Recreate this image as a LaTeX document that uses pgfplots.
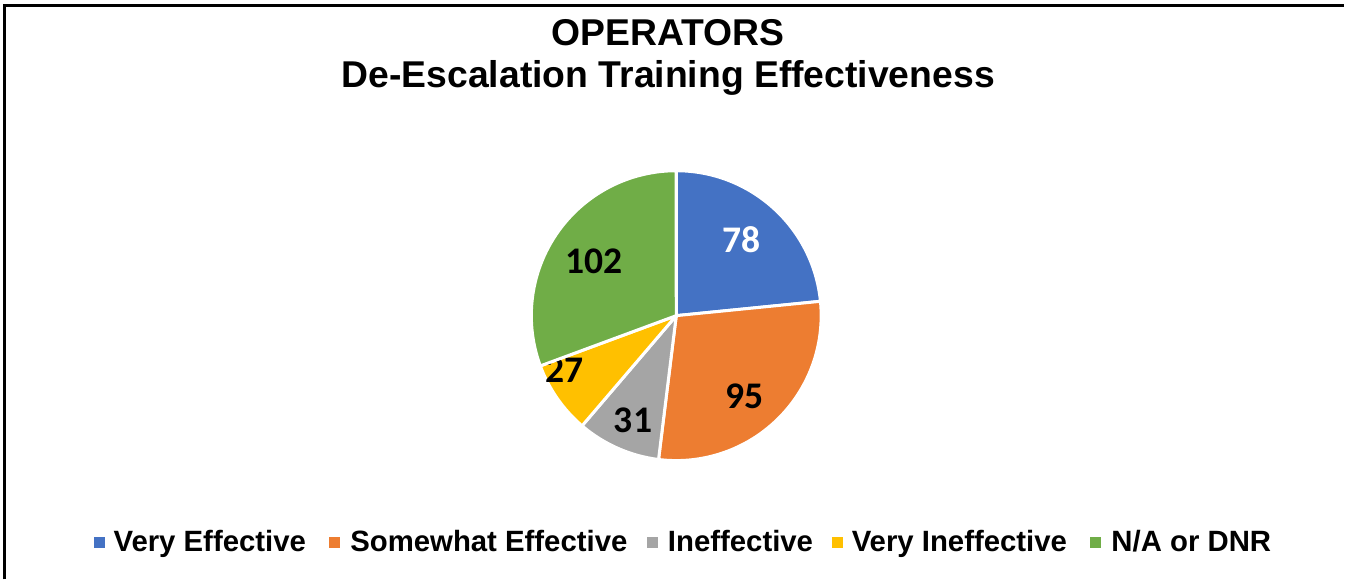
\documentclass[border=0pt]{standalone}
\usepackage{pgfplots}
\pgfplotsset{compat=1.18}
\usepackage{pgfplotstable}
\usepackage{fontspec}
\setmainfont{Liberation Sans}
\newfontfamily\calibri{Carlito}

\definecolor{cVE}{HTML}{4472C4}
\definecolor{cSE}{HTML}{ED7D31}
\definecolor{cIN}{HTML}{A5A5A5}
\definecolor{cVI}{HTML}{FFC000}
\definecolor{cNA}{HTML}{70AD47}

% value, slice colour, label colour, label radius (fraction of R), label angle shift
\pgfplotstableread{
name value fill txt rad dang
VE 78 cVE white 0.69 1.2
SE 95 cSE black 0.73 -3.9
IN 31 cIN black 0.78 1.3
VI 27 cVI black 0.86 -8.9
NA 102 cNA black 0.68 1.5
}\piedata

\tikzset{
  lbl/.style={font=\calibri\bfseries\fontsize{10.7}{12}\selectfont, inner sep=0pt},
  leg/.style={font=\bfseries\fontsize{8.35}{10}\selectfont, inner sep=0pt, anchor=base west},
}

\begin{document}
\begin{tikzpicture}
\begin{axis}[
    x=0.01cm, y=0.01cm,
    xmin=0, xmax=1345, ymin=0, ymax=580,
    hide axis, clip=false, scale only axis,
]
\path (axis cs:0,0) rectangle (axis cs:1345,580);
% frame (top and left edges only)
\draw[line width=0.03cm] (axis cs:4.5,0) -- (axis cs:4.5,574.5) -- (axis cs:1345,574.5);

% title
\node[font=\bfseries\fontsize{10.62}{12.6}\selectfont, anchor=base, inner sep=0pt]
  at (axis cs:669,534) {OPERATORS};
\node[font=\bfseries\fontsize{10.62}{12.6}\selectfont, anchor=base, inner sep=0pt]
  at (axis cs:669,492) {De-Escalation Training Effectiveness};

% pie
\pgfplotstablegetrowsof{\piedata}
\pgfmathtruncatemacro\lastrow{\pgfplotsretval-1}
\def\total{0}
\pgfplotsforeachungrouped \i in {0,...,\lastrow}{%
  \pgfplotstablegetelem{\i}{value}\of\piedata
  \pgfmathsetmacro\total{\total+\pgfplotsretval}%
}
\def\start{90}
\pgfplotsforeachungrouped \i in {0,...,\lastrow}{%
  \pgfplotstablegetelem{\i}{value}\of\piedata \let\val\pgfplotsretval
  \pgfplotstablegetelem{\i}{fill}\of\piedata \let\fc\pgfplotsretval
  \pgfplotstablegetelem{\i}{txt}\of\piedata \let\tc\pgfplotsretval
  \pgfplotstablegetelem{\i}{rad}\of\piedata \let\rf\pgfplotsretval
  \pgfplotstablegetelem{\i}{dang}\of\piedata \let\da\pgfplotsretval
  \pgfmathsetmacro\stop{\start-\val/\total*360}%
  \pgfmathsetmacro\mid{(\start+\stop)/2+\da}%
  \pgfmathsetmacro\rr{1.45*\rf}%
  \edef\slice{%
    \noexpand\fill[\fc, draw=white, line width=0.03cm, line join=round]
      (axis cs:677,264) -- ++(\start:1.45cm)
      arc[start angle=\start, end angle=\stop, radius=1.45cm] -- cycle;
    \noexpand\path (axis cs:677,264) ++(\mid:\rr cm) node[lbl, text=\tc] {\val};
  }%
  \slice
  \let\start\stop
}

% legend
\fill[cVE] (axis cs:94.5,31.5) rectangle (axis cs:105.5,42.5);
\node[leg] at (axis cs:113,28) {Very Effective};
\fill[cSE] (axis cs:329.5,31.5) rectangle (axis cs:340.5,42.5);
\node[leg] at (axis cs:350,28) {Somewhat Effective};
\fill[cIN] (axis cs:647.5,31.5) rectangle (axis cs:658.5,42.5);
\node[leg] at (axis cs:668,28) {Ineffective};
\fill[cVI] (axis cs:832.5,31.5) rectangle (axis cs:843.5,42.5);
\node[leg] at (axis cs:852,28) {Very Ineffective};
\fill[cNA] (axis cs:1091.5,31.5) rectangle (axis cs:1102.5,42.5);
\node[leg] at (axis cs:1112,28) {N/A or DNR};
\end{axis}
\end{tikzpicture}
\end{document}
